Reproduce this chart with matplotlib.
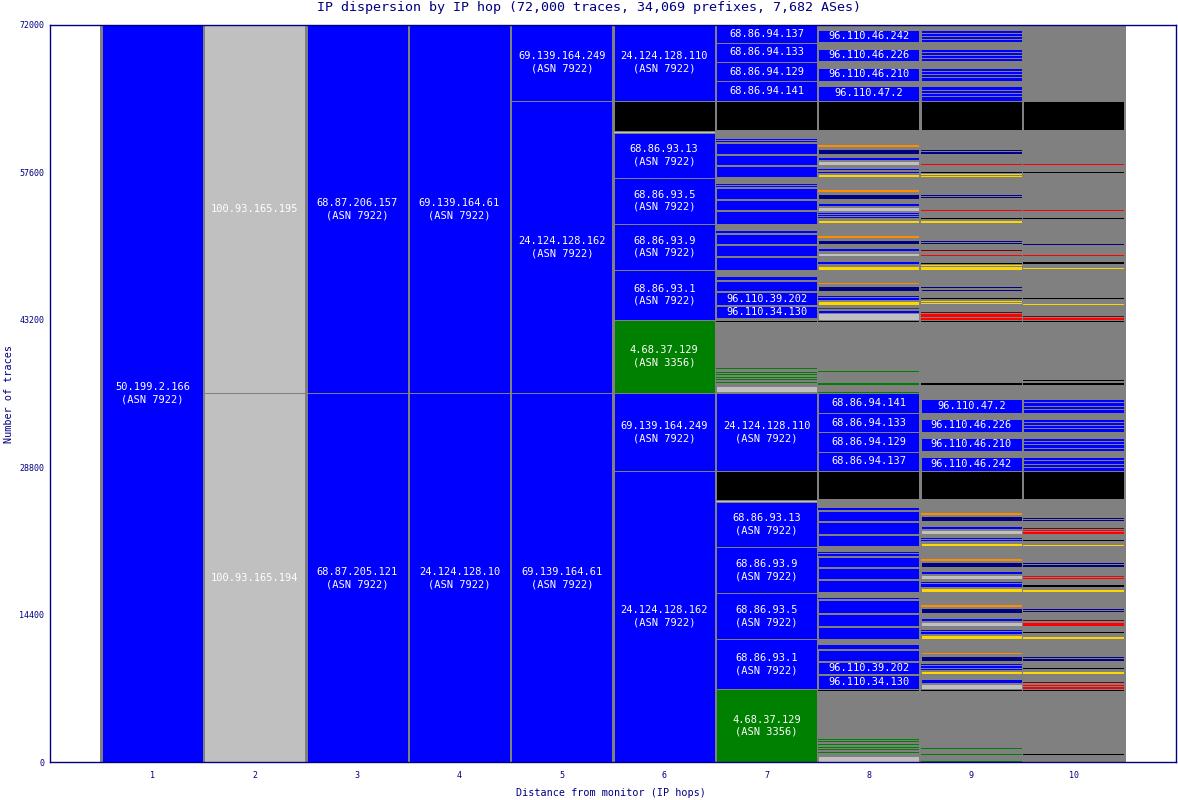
#!/usr/bin/env python3
"""IP dispersion by IP hop: stacked interface blocks per hop distance."""

import matplotlib

matplotlib.use("Agg")
import matplotlib.pyplot as plt

TITLE = "IP dispersion by IP hop (72,000 traces, 34,069 prefixes, 7,682 ASes)"
TOTAL = 72000
HALF = 36000
hops = [1, 2, 3, 4, 5, 6, 7, 8, 9, 10]
y_ticks = [0, 14400, 28800, 43200, 57600, 72000]

A7922 = "\n(ASN 7922)"
A3356 = "\n(ASN 3356)"

# each segment: (low, high, colour, label) in number of traces
hop1 = [(0, 72000, "blue", "50.199.2.166" + A7922)]
hop2 = [(0, 36000, "silver", "100.93.165.194"),
        (36000, 72000, "silver", "100.93.165.195")]
hop3 = [(0, 36000, "blue", "68.87.205.121" + A7922),
        (36000, 72000, "blue", "68.87.206.157" + A7922)]
hop4 = [(0, 36000, "blue", "24.124.128.10" + A7922),
        (36000, 72000, "blue", "69.139.164.61" + A7922)]
hop5 = [(0, 36000, "blue", "69.139.164.61" + A7922),
        (36000, 64575, "blue", "24.124.128.162" + A7922),
        (64575, 72000, "blue", "69.139.164.249" + A7922)]
hop6 = [(0, 28430, "blue", "24.124.128.162" + A7922),
        (28430, 36000, "blue", "69.139.164.249" + A7922),
        (36000, 43180, "green", "4.68.37.129" + A3356),
        (43180, 48070, "blue", "68.86.93.1" + A7922),
        (48070, 52560, "blue", "68.86.93.9" + A7922),
        (52560, 57050, "blue", "68.86.93.5" + A7922),
        (57050, 61450, "blue", "68.86.93.13" + A7922),
        (61450, 61640, "silver", ""),
        (61640, 64575, "black", ""),
        (64575, 72000, "blue", "24.124.128.110" + A7922)]
hop7 = [(0, 7130, "green", "4.68.37.129" + A3356),
        (7130, 12020, "blue", "68.86.93.1" + A7922),
        (12020, 16540, "blue", "68.86.93.5" + A7922),
        (16540, 21030, "blue", "68.86.93.9" + A7922),
        (21030, 25450, "blue", "68.86.93.13" + A7922),
        (25450, 25640, "silver", ""),
        (25640, 28430, "black", ""),
        (28430, 36000, "blue", "24.124.128.110" + A7922),
        (36150, 36730, "silver", ""),
        (37000, 37150, "green", ""), (37320, 37420, "green", ""),
        (37540, 37640, "green", ""), (37810, 37900, "green", ""),
        (38030, 38130, "green", ""), (38360, 38460, "green", ""),
        (43010, 43080, "black", ""),
        (43350, 44550, "blue", "96.110.34.130"),
        (44650, 45850, "blue", "96.110.39.202"),
        (45950, 46990, "blue", ""), (47090, 47410, "blue", ""),
        (48070, 49270, "blue", ""), (49360, 50440, "blue", ""),
        (50580, 51550, "blue", ""), (51650, 51880, "blue", ""),
        (52560, 53760, "blue", ""), (53860, 54900, "blue", ""),
        (55000, 56010, "blue", ""), (56100, 56200, "blue", ""),
        (56340, 56440, "blue", ""),
        (57080, 58160, "blue", ""), (58260, 59300, "blue", ""),
        (59370, 60440, "blue", ""), (60540, 60670, "blue", ""),
        (60770, 60860, "blue", ""),
        (61740, 64575, "black", ""),
        (64575, 66460, "blue", "68.86.94.141"),
        (66460, 68360, "blue", "68.86.94.129"),
        (68360, 70210, "blue", "68.86.94.133"),
        (70210, 72000, "blue", "68.86.94.137")]
hop8 = [(0, 590, "silver", ""),
        (910, 1050, "green", ""), (1170, 1270, "green", ""),
        (1440, 1530, "green", ""), (1690, 1790, "green", ""),
        (1950, 2050, "green", ""), (2220, 2320, "green", ""),
        (6940, 7030, "black", ""),
        (7200, 8500, "blue", "96.110.34.130"),
        (8600, 9770, "blue", "96.110.39.202"),
        (9900, 10940, "blue", ""), (11040, 11210, "blue", ""),
        (11300, 11400, "blue", ""),
        (12020, 13190, "blue", ""), (13320, 14460, "blue", ""),
        (14590, 15800, "blue", ""), (15890, 15990, "blue", ""),
        (16610, 17780, "blue", ""), (17880, 18950, "blue", ""),
        (19080, 20030, "blue", ""), (20150, 20290, "blue", ""),
        (20390, 20490, "blue", ""),
        (21100, 22210, "blue", ""), (22300, 23450, "blue", ""),
        (23540, 24520, "blue", ""), (24620, 24840, "blue", ""),
        (25680, 28430, "black", ""),
        (28430, 30310, "blue", "68.86.94.137"),
        (30310, 32210, "blue", "68.86.94.129"),
        (32210, 34070, "blue", "68.86.94.133"),
        (34070, 36000, "blue", "68.86.94.141"),
        (36080, 36180, "green", ""), (36860, 37060, "green", ""),
        (38130, 38200, "green", ""),
        (43010, 43080, "black", ""),
        (43180, 43800, "silver", ""), (43890, 44160, "blue", ""),
        (44280, 44350, "#404040", ""), (44650, 45040, "gold", ""),
        (45130, 45330, "blue", ""), (45430, 45520, "blue", ""),
        (45950, 46500, "navy", ""), (46630, 46820, "darkorange", ""),
        (48070, 48460, "gold", ""), (48580, 48780, "blue", ""),
        (48970, 49040, "black", ""), (49360, 49750, "silver", ""),
        (49850, 50150, "blue", ""), (50540, 51000, "navy", ""),
        (51120, 51320, "darkorange", ""),
        (52590, 52950, "gold", ""), (53080, 53170, "blue", ""),
        (53270, 53370, "blue", ""), (53470, 53560, "blue", ""),
        (53660, 53730, "black", ""), (53830, 54150, "silver", ""),
        (54250, 54540, "blue", ""), (54640, 54710, "#404040", ""),
        (55000, 55490, "navy", ""), (55620, 55810, "darkorange", ""),
        (57080, 57380, "gold", ""), (57470, 57640, "blue", ""),
        (57770, 57860, "blue", ""), (58260, 58650, "silver", ""),
        (58740, 59040, "blue", ""), (59400, 59890, "navy", ""),
        (60010, 60210, "darkorange", ""),
        (61740, 64575, "black", ""),
        (64575, 65970, "blue", "96.110.47.2"),
        (66530, 67770, "blue", "96.110.46.210"),
        (68420, 69630, "blue", "96.110.46.226"),
        (70270, 71510, "blue", "96.110.46.242")]
hop9 = [(0, 130, "green", ""), (710, 810, "green", ""),
        (1300, 1400, "green", ""),
        (6940, 7030, "black", ""),
        (7160, 7650, "silver", ""), (7750, 8140, "blue", ""),
        (8600, 8890, "gold", ""), (8990, 9110, "blue", ""),
        (9210, 9350, "blue", ""), (9480, 9570, "blue", ""),
        (9870, 10360, "navy", ""), (10520, 10780, "darkorange", ""),
        (12020, 12440, "gold", ""), (12530, 12700, "blue", ""),
        (12800, 12900, "blue", ""), (13290, 13710, "silver", ""),
        (13800, 14070, "blue", ""), (14560, 15040, "navy", ""),
        (15140, 15370, "darkorange", ""),
        (16610, 17000, "gold", ""), (17130, 17360, "blue", ""),
        (17490, 17580, "blue", ""), (17880, 18300, "silver", ""),
        (18400, 18660, "blue", ""), (19050, 19540, "navy", ""),
        (19640, 19860, "darkorange", ""),
        (21100, 21420, "gold", ""), (21560, 21720, "blue", ""),
        (21820, 21910, "blue", ""), (22270, 22690, "silver", ""),
        (22790, 23060, "blue", ""), (23540, 24030, "navy", ""),
        (24130, 24350, "darkorange", ""),
        (25680, 28430, "black", ""),
        (28430, 29830, "blue", "96.110.46.242"),
        (30380, 31680, "blue", "96.110.46.210"),
        (32270, 33540, "blue", "96.110.46.226"),
        (34120, 35460, "blue", "96.110.47.2"),
        (36860, 37060, "black", ""),
        (43010, 43080, "black", ""),
        (43210, 43400, "red", ""), (43500, 43700, "red", ""),
        (43860, 43960, "maroon", ""),
        (44680, 44840, "gold", ""), (44940, 45040, "gold", ""),
        (45230, 45330, "black", ""),
        (45950, 46210, "navy", ""), (46310, 46400, "navy", ""),
        (48090, 48290, "gold", ""), (48390, 48490, "gold", ""),
        (48580, 48750, "black", ""), (49360, 49460, "red", ""),
        (49850, 49950, "maroon", ""),
        (50540, 50700, "navy", ""), (50800, 50900, "navy", ""),
        (52590, 52780, "gold", ""), (53050, 53150, "black", ""),
        (53660, 53730, "black", ""), (53830, 53930, "red", ""),
        (54250, 54320, "maroon", ""),
        (55030, 55200, "navy", ""), (55290, 55390, "navy", ""),
        (57080, 57180, "gold", ""), (57280, 57380, "gold", ""),
        (57540, 57640, "black", ""), (58260, 58350, "red", ""),
        (58740, 58810, "maroon", ""),
        (59400, 59590, "navy", ""), (59690, 59790, "navy", ""),
        (61740, 64575, "black", ""),
        (64575, 65000, "blue", ""), (65000, 65330, "blue", ""),
        (65330, 65650, "blue", ""), (65650, 65970, "blue", ""),
        (66530, 66840, "blue", ""), (66840, 67150, "blue", ""),
        (67150, 67460, "blue", ""), (67460, 67770, "blue", ""),
        (68420, 68720, "blue", ""), (68720, 69020, "blue", ""),
        (69020, 69330, "blue", ""), (69330, 69630, "blue", ""),
        (70270, 70580, "blue", ""), (70580, 70890, "blue", ""),
        (70890, 71200, "blue", ""), (71200, 71510, "blue", "")]
hop10 = [(710, 810, "black", ""),
         (6940, 7030, "black", ""),
         (7160, 7330, "red", ""), (7430, 7550, "red", ""),
         (7720, 7820, "maroon", ""), (8600, 8790, "gold", ""),
         (9120, 9210, "black", ""),
         (9870, 10060, "navy", ""), (10130, 10290, "navy", ""),
         (12050, 12240, "gold", ""), (12600, 12700, "black", ""),
         (13320, 13450, "red", ""), (13510, 13610, "red", ""),
         (13800, 13900, "maroon", ""),
         (14620, 14780, "navy", ""), (14880, 14980, "navy", ""),
         (16640, 16800, "gold", ""), (17130, 17290, "black", ""),
         (17910, 18000, "red", ""), (18070, 18170, "red", ""),
         (19080, 19250, "navy", ""), (19370, 19470, "navy", ""),
         (21130, 21230, "gold", ""), (21620, 21720, "black", ""),
         (22300, 22440, "red", ""), (22570, 22660, "red", ""),
         (22790, 22890, "maroon", ""),
         (23570, 23670, "navy", ""), (23770, 23870, "navy", ""),
         (25680, 28430, "black", ""),
         (28430, 28780, "blue", ""), (28780, 29130, "blue", ""),
         (29130, 29480, "blue", ""), (29480, 29830, "blue", ""),
         (30380, 30700, "blue", ""), (30700, 31030, "blue", ""),
         (31030, 31350, "blue", ""), (31350, 31680, "blue", ""),
         (32270, 32590, "blue", ""), (32590, 32900, "blue", ""),
         (32900, 33220, "blue", ""), (33220, 33540, "blue", ""),
         (34120, 34460, "blue", ""), (34460, 34810, "blue", ""),
         (34810, 35140, "blue", ""), (35140, 35460, "blue", ""),
         (36860, 37060, "black", ""), (37220, 37320, "black", ""),
         (43010, 43080, "black", ""),
         (43210, 43400, "red", ""), (43470, 43570, "maroon", ""),
         (44650, 44740, "gold", ""), (45230, 45330, "black", ""),
         (45950, 46040, "navy", ""),
         (48160, 48260, "gold", ""), (48580, 48780, "black", ""),
         (49360, 49460, "red", ""), (50510, 50600, "navy", ""),
         (53050, 53150, "black", ""), (53660, 53730, "black", ""),
         (53830, 53930, "red", ""), (54250, 54320, "maroon", ""),
         (57540, 57640, "black", ""), (58260, 58350, "red", ""),
         (61740, 64575, "black", "")]

columns = [hop1, hop2, hop3, hop4, hop5, hop6, hop7, hop8, hop9, hop10]

AXIS_COLOR = "#000080"
EDGE = "#808080"
MONO = "DejaVu Sans Mono"


def main() -> None:
    fig = plt.figure(figsize=(11.78, 8), dpi=100)
    ax = fig.add_axes([50 / 1178, 37.7 / 800, 1126 / 1178, 737.8 / 800])

    # grey background for every hop, then the interface blocks on top
    ax.bar(hops, [TOTAL] * len(hops), width=1.0, bottom=0, color=EDGE,
           edgecolor=EDGE, linewidth=1.2, antialiased=False)

    for hop, segs in zip(hops, columns):
        for lo, hi, colour, label in segs:
            h = hi - lo
            lw = 0.6 if h >= 250 else 0.0
            ax.bar(hop, h, width=0.985, bottom=lo, color=colour,
                   edgecolor=EDGE, linewidth=lw, antialiased=False)
            if label:
                ax.text(hop, lo + h / 2, label, ha="center", va="center",
                        color="white", fontsize=7.5, family=MONO,
                        linespacing=1.3)

    ax.set_xlim(0, 11)
    ax.set_ylim(0, TOTAL)
    ax.set_xticks(hops)
    ax.set_xticklabels([str(h) for h in hops])
    ax.set_yticks(y_ticks)
    ax.set_yticklabels([str(t) for t in y_ticks])
    ax.tick_params(axis="both", length=0, colors=AXIS_COLOR, labelsize=6)
    ax.tick_params(axis="x", pad=6)
    ax.tick_params(axis="y", pad=4)
    for lab in ax.get_xticklabels() + ax.get_yticklabels():
        lab.set_family(MONO)
    for spine in ax.spines.values():
        spine.set_color(AXIS_COLOR)
        spine.set_linewidth(1.0)

    fig.text(611 / 1178, 1 - 793 / 800, "Distance from monitor (IP hops)",
             ha="center", va="center", color=AXIS_COLOR, fontsize=7.3,
             family=MONO)
    fig.text(9 / 1178, 1 - 394 / 800, "Number of traces", rotation=90,
             ha="center", va="center", color=AXIS_COLOR, fontsize=7.3,
             family=MONO)
    fig.text(0.5, 1 - 8 / 800, TITLE, ha="center", va="center",
             color=AXIS_COLOR, fontsize=9.6, family=MONO)

    fig.savefig("out.png", dpi=100)
    plt.close(fig)


if __name__ == "__main__":
    main()
